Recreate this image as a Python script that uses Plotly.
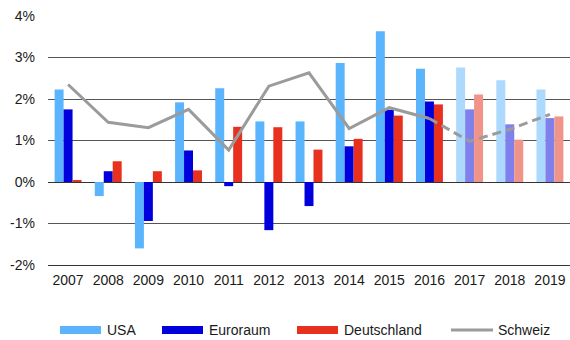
import plotly.graph_objects as go

# Jahreswerte (in %), 2017-2019 als Prognose hell dargestellt
years = ["2007", "2008", "2009", "2010", "2011", "2012", "2013",
         "2014", "2015", "2016", "2017", "2018", "2019"]
usa = [2.23, -0.34, -1.60, 1.92, 2.26, 1.46, 1.46, 2.87, 3.63, 2.73, 2.76, 2.45, 2.23]
euroraum = [1.75, 0.26, -0.94, 0.76, -0.10, -1.16, -0.58, 0.86, 1.74, 1.94, 1.75, 1.39, 1.54]
deutschland = [0.03, 0.50, 0.26, 0.28, 1.33, 1.32, 0.78, 1.04, 1.60, 1.87, 2.11, 1.02, 1.58]
schweiz = [2.35, 1.44, 1.31, 1.75, 0.77, 2.31, 2.63, 1.29, 1.79, 1.53, 0.98, 1.27, 1.63]
forecast_from = "2017"
y_ticks = [-2, -1, 0, 1, 2, 3, 4]
y_tick_labels = ["-2%", "-1%", "0%", "1%", "2%", "3%", "4%"]

W, H = 570, 340
M_L, M_R, M_T, M_B = 48, 0, 16, 75
FONT = "Liberation Sans, Arial, sans-serif"
TEXT = "#1a1a1a"

COL_USA = ("#5ab4fe", "#acd9fd")
COL_EUR = ("#0000dc", "#8080ec")
COL_DE = ("#e8301e", "#f0948a")
COL_CH = "#9b9b9b"

first_fc = years.index(forecast_from)


def shade(pair):
    return [pair[0] if i < first_fc else pair[1] for i in range(len(years))]


fig = go.Figure()
for name, vals, cols in [("USA", usa, COL_USA),
                         ("Euroraum", euroraum, COL_EUR),
                         ("Deutschland", deutschland, COL_DE)]:
    fig.add_trace(go.Bar(x=years, y=vals, name=name,
                         marker=dict(color=shade(cols), line=dict(width=0)),
                         showlegend=False))

# Schweiz: Ist-Werte durchgezogen, Prognose gestrichelt
fig.add_trace(go.Scatter(x=years[:first_fc], y=schweiz[:first_fc], mode="lines",
                         line=dict(color=COL_CH, width=3), showlegend=False))
fig.add_trace(go.Scatter(x=years[first_fc - 1:], y=schweiz[first_fc - 1:], mode="lines",
                         line=dict(color=COL_CH, width=3, dash="9px,5px"),
                         showlegend=False))

# Legende unten, als Formen und Texte
pw = W - M_L - M_R
ph = H - M_T - M_B


def px_x(x):
    return (x - M_L) / pw


def px_y(y):
    return (H - M_B - y) / ph


legend_items = [("USA", COL_USA[0], "bar", 60),
                ("Euroraum", COL_EUR[0], "bar", 162),
                ("Deutschland", COL_DE[0], "bar", 297),
                ("Schweiz", COL_CH, "line", 451)]
shapes = []
annotations = []
ly = 330
for label, col, kind, x0 in legend_items:
    if kind == "bar":
        shapes.append(dict(type="rect", xref="paper", yref="paper",
                           x0=px_x(x0), x1=px_x(x0 + 41),
                           y0=px_y(ly + 4), y1=px_y(ly - 4),
                           fillcolor=col, line=dict(width=0)))
    else:
        shapes.append(dict(type="line", xref="paper", yref="paper",
                           x0=px_x(x0), x1=px_x(x0 + 42),
                           y0=px_y(ly), y1=px_y(ly),
                           line=dict(color=col, width=3)))
    annotations.append(dict(xref="paper", yref="paper", x=px_x(x0 + 45), y=px_y(ly),
                            text=label, showarrow=False, xanchor="left", yanchor="middle",
                            font=dict(family=FONT, size=14, color=TEXT)))

fig.update_layout(
    width=W, height=H,
    margin=dict(l=M_L, r=M_R, t=M_T, b=M_B),
    paper_bgcolor="white", plot_bgcolor="white",
    barmode="group", bargap=0.33, bargroupgap=0,
    font=dict(family=FONT, size=14, color=TEXT),
    shapes=shapes, annotations=annotations,
)
fig.update_xaxes(type="category", showgrid=False, showline=True, linecolor="#333333",
                 linewidth=1, ticks="", tickfont=dict(size=14, color=TEXT),
                 ticklabelstandoff=2)
fig.update_yaxes(range=[-2, 4], tickvals=y_ticks, ticktext=y_tick_labels,
                 showgrid=True, gridcolor="#555555", gridwidth=1.2,
                 zeroline=True, zerolinecolor="#333333", zerolinewidth=1.2,
                 ticks="", tickfont=dict(size=14, color=TEXT), ticklabelstandoff=12)

fig.write_html("out.html")
